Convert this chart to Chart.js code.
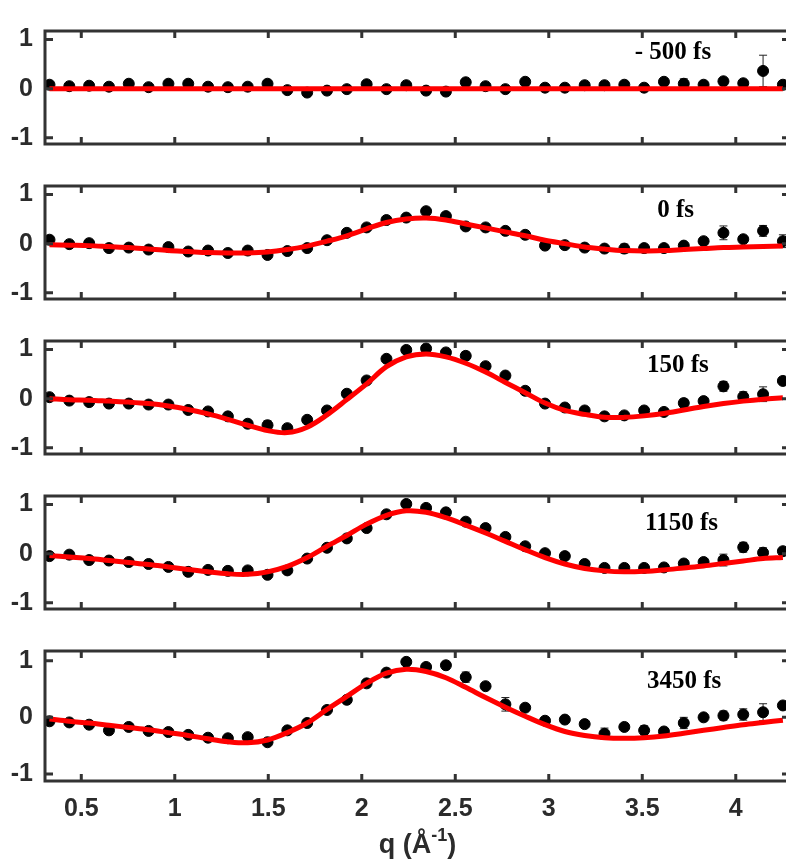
<!DOCTYPE html>
<html>
<head>
<meta charset="utf-8">
<script src="https://cdn.jsdelivr.net/npm/chart.js@4/dist/chart.umd.min.js"></script>
<style>
  html, body { margin: 0; padding: 0; background: #fff; overflow: hidden; }
  #wrap { position: relative; width: 786px; height: 859px; overflow: hidden; }
  #wrap canvas { position: absolute; left: 0; }
</style>
</head>
<body>
<div id="wrap"></div>
<script>
// scattering vector q (1/Angstrom)
const q = [0.330, 0.436, 0.542, 0.648, 0.754, 0.860, 0.966, 1.072, 1.178, 1.284,
  1.390, 1.496, 1.602, 1.708, 1.814, 1.920, 2.026, 2.132, 2.238, 2.344,
  2.450, 2.556, 2.662, 2.768, 2.874, 2.980, 3.086, 3.192, 3.298, 3.404,
  3.510, 3.616, 3.722, 3.828, 3.934, 4.040, 4.146, 4.252];

const xTicks = [0.5, 1, 1.5, 2, 2.5, 3, 3.5, 4];
const yTicks = [-1, 0, 1];
const delays = ["- 500 fs", "0 fs", "150 fs", "1150 fs", "3450 fs"];

// -500 fs
const meas500 = [0.08, 0.05, 0.06, 0.04, 0.10, 0.03, 0.10, 0.10, 0.04, 0.03,
  0.04, 0.10, -0.03, -0.08, -0.04, -0.01, 0.09, -0.01, 0.07, -0.04,
  -0.06, 0.13, 0.05, -0.01, 0.14, 0.02, 0.02, 0.07, 0.07, 0.08,
  0.02, 0.14, 0.10, 0.08, 0.15, 0.11, 0.36, 0.08];
const err500 = [0.03, 0.03, 0.03, 0.03, 0.03, 0.03, 0.03, 0.03, 0.03, 0.03,
  0.03, 0.03, 0.03, 0.03, 0.03, 0.03, 0.03, 0.03, 0.03, 0.03,
  0.03, 0.03, 0.03, 0.03, 0.03, 0.03, 0.03, 0.03, 0.03, 0.04,
  0.04, 0.05, 0.10, 0.05, 0.06, 0.05, 0.32, 0.05];
const fit500 = [0, 0, 0, 0, 0, 0, 0, 0, 0, 0, 0, 0, 0, 0, 0, 0, 0, 0, 0, 0,
  0, 0, 0, 0, 0, 0, 0, 0, 0, 0, 0, 0, 0, 0, 0, 0, 0, 0];

// 0 fs
const meas0 = [0.08, -0.01, 0.01, -0.09, -0.08, -0.12, -0.07, -0.16, -0.14, -0.19,
  -0.14, -0.23, -0.15, -0.09, 0.07, 0.22, 0.33, 0.48, 0.53, 0.66,
  0.56, 0.35, 0.33, 0.26, 0.18, -0.04, -0.03, -0.08, -0.10, -0.10,
  -0.09, -0.09, -0.04, 0.05, 0.22, 0.09, 0.26, 0.05];
const err0 = [0.03, 0.03, 0.03, 0.03, 0.03, 0.03, 0.03, 0.03, 0.03, 0.03,
  0.03, 0.03, 0.03, 0.03, 0.03, 0.03, 0.03, 0.03, 0.03, 0.03,
  0.03, 0.03, 0.03, 0.03, 0.03, 0.03, 0.03, 0.03, 0.03, 0.09,
  0.04, 0.04, 0.05, 0.05, 0.14, 0.05, 0.11, 0.13];
const fit0 = [-0.02, -0.03, -0.04, -0.06, -0.08, -0.11, -0.14, -0.16, -0.18, -0.19,
  -0.19, -0.17, -0.12, -0.05, 0.05, 0.16, 0.30, 0.43, 0.50, 0.52,
  0.48, 0.40, 0.32, 0.24, 0.16, 0.07, 0.00, -0.07, -0.11, -0.14,
  -0.15, -0.14, -0.12, -0.10, -0.08, -0.07, -0.06, -0.05];

// 150 fs
const meas150 = [0.03, -0.04, -0.07, -0.10, -0.10, -0.12, -0.12, -0.23, -0.26, -0.36,
  -0.51, -0.54, -0.60, -0.43, -0.24, 0.10, 0.37, 0.81, 0.99, 1.02,
  0.94, 0.87, 0.66, 0.47, 0.16, -0.10, -0.18, -0.24, -0.36, -0.34,
  -0.24, -0.27, -0.09, -0.05, 0.25, 0.04, 0.09, 0.36];
const err150 = [0.03, 0.03, 0.03, 0.03, 0.03, 0.03, 0.03, 0.03, 0.03, 0.03,
  0.04, 0.09, 0.03, 0.03, 0.03, 0.03, 0.05, 0.04, 0.07, 0.04,
  0.04, 0.08, 0.04, 0.04, 0.05, 0.05, 0.04, 0.04, 0.04, 0.04,
  0.04, 0.04, 0.08, 0.05, 0.10, 0.10, 0.15, 0.06];
const fit150 = [0.00, -0.02, -0.03, -0.05, -0.07, -0.10, -0.15, -0.22, -0.31, -0.42,
  -0.54, -0.65, -0.69, -0.58, -0.33, -0.02, 0.30, 0.65, 0.85, 0.91,
  0.85, 0.72, 0.54, 0.33, 0.12, -0.09, -0.24, -0.32, -0.38, -0.38,
  -0.35, -0.30, -0.23, -0.16, -0.10, -0.05, -0.01, 0.02];

// 1150 fs
const meas1150 = [-0.05, -0.02, -0.13, -0.14, -0.17, -0.21, -0.27, -0.37, -0.33, -0.35,
  -0.34, -0.43, -0.34, -0.10, 0.12, 0.31, 0.52, 0.80, 1.01, 0.93,
  0.84, 0.65, 0.52, 0.34, 0.15, 0.01, -0.05, -0.21, -0.29, -0.29,
  -0.29, -0.28, -0.20, -0.17, -0.13, 0.13, 0.02, 0.05];
const err1150 = [0.03, 0.03, 0.03, 0.03, 0.03, 0.03, 0.03, 0.03, 0.03, 0.03,
  0.03, 0.03, 0.03, 0.03, 0.03, 0.04, 0.04, 0.05, 0.04, 0.04,
  0.04, 0.04, 0.06, 0.04, 0.04, 0.04, 0.07, 0.04, 0.04, 0.04,
  0.04, 0.04, 0.05, 0.07, 0.12, 0.10, 0.10, 0.05];
const fit1150 = [-0.04, -0.07, -0.10, -0.14, -0.18, -0.22, -0.27, -0.32, -0.37, -0.41,
  -0.42, -0.37, -0.26, -0.08, 0.15, 0.37, 0.60, 0.78, 0.87, 0.84,
  0.73, 0.58, 0.42, 0.25, 0.08, -0.08, -0.21, -0.30, -0.35, -0.37,
  -0.36, -0.33, -0.29, -0.25, -0.20, -0.15, -0.10, -0.08];

// 3450 fs
const meas3450 = [-0.07, -0.09, -0.13, -0.23, -0.17, -0.24, -0.26, -0.31, -0.36, -0.37,
  -0.35, -0.44, -0.23, -0.10, 0.13, 0.31, 0.60, 0.79, 0.98, 0.89,
  0.92, 0.71, 0.55, 0.23, 0.17, -0.06, -0.04, -0.12, -0.29, -0.17,
  -0.23, -0.25, -0.10, 0.00, 0.03, 0.05, 0.09, 0.21];
const err3450 = [0.03, 0.03, 0.03, 0.03, 0.03, 0.03, 0.03, 0.03, 0.03, 0.03,
  0.03, 0.03, 0.03, 0.03, 0.03, 0.03, 0.04, 0.04, 0.04, 0.04,
  0.04, 0.09, 0.04, 0.12, 0.05, 0.04, 0.04, 0.04, 0.10, 0.04,
  0.08, 0.04, 0.10, 0.05, 0.08, 0.10, 0.15, 0.06];
const fit3450 = [-0.03, -0.07, -0.10, -0.14, -0.18, -0.22, -0.27, -0.32, -0.38, -0.43,
  -0.45, -0.40, -0.27, -0.10, 0.14, 0.37, 0.60, 0.78, 0.85, 0.81,
  0.70, 0.53, 0.35, 0.18, 0.02, -0.13, -0.25, -0.32, -0.36, -0.37,
  -0.36, -0.33, -0.28, -0.23, -0.18, -0.13, -0.09, -0.05];

const measured = [meas500, meas0, meas150, meas1150, meas3450];
const errors = [err500, err0, err150, err1150, err3450];
const fits = [fit500, fit0, fit150, fit1150, fit3450];

// where the delay labels sit (q of left edge, y value of text middle)
const labelPos = [[3.46, 0.74], [3.58, 0.67], [3.525, 0.67], [3.515, 0.62], [3.525, 0.64]];

const frameColor = "#333";
const panelTop0 = 14;
const panelStep = 155;
const panelH = 147;

const framePlugin = {
  id: "frame",
  beforeDatasetsDraw(chart) {
    // error bars, under the markers
    const ctx = chart.ctx;
    const xs = chart.scales.x;
    const ys = chart.scales.y;
    const ds = chart.data.datasets[1];
    ctx.save();
    ctx.strokeStyle = "#222";
    ctx.lineWidth = 1;
    ds.data.forEach((p, i) => {
      const e = ds.err[i];
      const px = xs.getPixelForValue(p.x);
      const y1 = ys.getPixelForValue(p.y + e);
      const y2 = ys.getPixelForValue(p.y - e);
      ctx.beginPath();
      ctx.moveTo(px, y1); ctx.lineTo(px, y2);
      ctx.moveTo(px - 4, y1); ctx.lineTo(px + 4, y1);
      ctx.moveTo(px - 4, y2); ctx.lineTo(px + 4, y2);
      ctx.stroke();
    });
    ctx.restore();
  },
  afterDraw(chart) {
    const ctx = chart.ctx;
    const a = chart.chartArea;
    const xs = chart.scales.x;
    const ys = chart.scales.y;
    const opts = chart.options.plugins.frame;
    ctx.save();
    ctx.strokeStyle = frameColor;
    ctx.lineWidth = 3;
    ctx.strokeRect(a.left, a.top, a.right - a.left, a.bottom - a.top);
    ctx.beginPath();
    xTicks.forEach((v) => {
      const px = xs.getPixelForValue(v);
      ctx.moveTo(px, a.top); ctx.lineTo(px, a.top + 7);
      ctx.moveTo(px, a.bottom); ctx.lineTo(px, a.bottom - 7);
    });
    yTicks.forEach((v) => {
      const py = ys.getPixelForValue(v);
      ctx.moveTo(a.left, py); ctx.lineTo(a.left + 8, py);
      ctx.moveTo(a.right, py); ctx.lineTo(a.right - 8, py);
    });
    ctx.stroke();

    // delay label
    ctx.fillStyle = "#000";
    ctx.font = "bold 25px 'Liberation Serif', 'Times New Roman', serif";
    ctx.textBaseline = "middle";
    ctx.textAlign = "left";
    ctx.fillText(opts.label, xs.getPixelForValue(opts.pos[0]), ys.getPixelForValue(opts.pos[1]));

    // x axis title on the last panel
    if (opts.last) {
      const font = "'Liberation Sans', Arial, sans-serif";
      const cx = (a.left + a.right) / 2;
      const base = a.bottom + 72;
      ctx.fillStyle = "#2b2b2b";
      ctx.textBaseline = "alphabetic";
      ctx.font = "bold 27px " + font;
      const t1 = "q (Å";
      const t2 = "-1";
      const t3 = ")";
      const w1 = ctx.measureText(t1).width;
      const w3 = ctx.measureText(t3).width;
      ctx.font = "bold 18px " + font;
      const w2 = ctx.measureText(t2).width;
      let x = cx - (w1 + w2 + w3) / 2;
      ctx.font = "bold 27px " + font;
      ctx.fillText(t1, x, base);
      x += w1;
      ctx.font = "bold 18px " + font;
      ctx.fillText(t2, x, base - 12);
      x += w2;
      ctx.font = "bold 27px " + font;
      ctx.fillText(t3, x, base);
    }
    ctx.restore();
  },
};

const wrap = document.getElementById("wrap");

for (let i = 0; i < 5; i++) {
  const last = i === 4;
  const top = panelTop0 + panelStep * i - 10;
  const canvas = document.createElement("canvas");
  const h = last ? 859 - top : panelH + 20;
  canvas.width = 800;
  canvas.height = h;
  canvas.style.width = "800px";
  canvas.style.height = h + "px";
  canvas.style.top = top + "px";
  wrap.appendChild(canvas);

  const fitPts = q.map((v, k) => ({ x: v, y: fits[i][k] }));
  const measPts = q.map((v, k) => ({ x: v, y: measured[i][k] }));

  new Chart(canvas.getContext("2d"), {
    type: "scatter",
    data: {
      datasets: [
        {
          type: "line",
          label: "fit",
          data: fitPts,
          borderColor: "#ff0000",
          borderWidth: 5,
          pointRadius: 0,
          tension: 0.35,
          fill: false,
          order: 0,
        },
        {
          label: "data",
          data: measPts,
          err: errors[i],
          backgroundColor: "#000",
          borderColor: "#000",
          pointRadius: 5.5,
          order: 1,
        },
      ],
    },
    options: {
      responsive: false,
      animation: false,
      events: [],
      layout: { padding: { top: 10, right: 10, bottom: last ? 0 : 10, left: 0 } },
      plugins: {
        legend: { display: false },
        tooltip: { enabled: false },
        frame: { label: delays[i], pos: labelPos[i], last: last },
      },
      scales: {
        x: {
          type: "linear",
          min: 0.306,
          max: 4.29,
          display: last,
          grid: { display: false, drawTicks: false },
          border: { display: false },
          afterBuildTicks: (s) => { s.ticks = xTicks.map((v) => ({ value: v })); },
          afterFit: (s) => { s.height = last ? 78 : 0; },
          ticks: {
            padding: 13,
            color: "#2b2b2b",
            maxRotation: 0,
            callback: (v) => String(v),
            font: { family: "'Liberation Sans', Arial, sans-serif", size: 25, weight: "bold" },
          },
        },
        y: {
          min: -1.125,
          max: 1.172,
          grid: { display: false, drawTicks: false },
          border: { display: false },
          afterBuildTicks: (s) => { s.ticks = yTicks.map((v) => ({ value: v })); },
          afterFit: (s) => { s.width = 45; },
          ticks: {
            padding: 12,
            color: "#2b2b2b",
            callback: (v) => String(v),
            font: { family: "'Liberation Sans', Arial, sans-serif", size: 25, weight: "bold" },
          },
        },
      },
    },
    plugins: [framePlugin],
  });
}
</script>
</body>
</html>
